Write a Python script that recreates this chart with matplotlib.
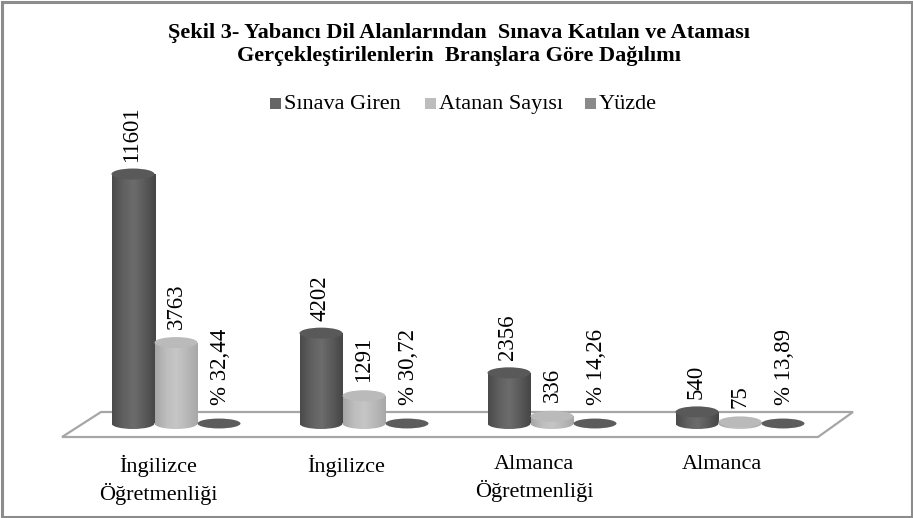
import numpy as np
import matplotlib
matplotlib.use("Agg")
import matplotlib.pyplot as plt
from matplotlib.patches import Ellipse, Polygon, Rectangle
from matplotlib.colors import LinearSegmentedColormap

# ---- data ----
categories = ["İngilizce\nÖğretmenliği", "İngilizce", "Almanca\nÖğretmenliği", "Almanca"]
series_names = ["Sınava Giren", "Atanan Sayısı", "Yüzde"]
series_colors = ["#666666", "#bdbdbd", "#8a8a8a"]
sinava_giren = [11601, 4202, 2356, 540]
atanan_sayisi = [3763, 1291, 336, 75]
yuzde = [32.44, 30.72, 14.26, 13.89]
yuzde_labels = ["% 32,44", "% 30,72", "% 14,26", "% 13,89"]
title = "Şekil 3- Yabancı Dil Alanlarından  Sınava Katılan ve Ataması\nGerçekleştirilenlerin  Branşlara Göre Dağılımı"

plt.rcParams['font.family'] = ['Liberation Serif', 'DejaVu Serif']

W, H = 913, 518
fig = plt.figure(figsize=(W / 100, H / 100), dpi=100)
ax = fig.add_axes([0, 0, 1, 1])
ax.axis('off')

# scales (group spacing = 1 unit, value axis)
px_per_group = 188.0
center_px = 176.0
base_px = 423.5
val_per_px = 46.5
ax.set_xlim(-center_px / px_per_group, (W - center_px) / px_per_group)
ax.set_ylim(-(H - base_px) * val_per_px, base_px * val_per_px)

bw = 43.0 / px_per_group
eh = 11.0 * val_per_px

def grad_cmap(cols):
    return LinearSegmentedColormap.from_list("g", cols)

dark_cmap = grad_cmap(["#4a4a4a", "#606060", "#6c6c6c", "#5a5a5a", "#464646"])
light_cmap = grad_cmap(["#a6a6a6", "#bdbdbd", "#c6c6c6", "#b8b8b8", "#a8a8a8"])
grad = np.linspace(0, 1, 64).reshape(1, -1)

def cylinder(xc, v, cmap, topcol, z):
    rect = Rectangle((xc - bw / 2, 0), bw, v, facecolor='none', edgecolor='none', zorder=z)
    ax.add_patch(rect)
    im = ax.imshow(grad, cmap=cmap, aspect='auto', extent=(xc - bw / 2, xc + bw / 2, -eh, v),
                   zorder=z, interpolation='bilinear')
    im.set_clip_path(rect)
    bot = Ellipse((xc, 0), bw, eh, facecolor='none', edgecolor='none', zorder=z)
    ax.add_patch(bot)
    im2 = ax.imshow(grad, cmap=cmap, aspect='auto', extent=(xc - bw / 2, xc + bw / 2, -eh, v),
                    zorder=z, interpolation='bilinear')
    im2.set_clip_path(bot)
    ax.add_patch(Ellipse((xc, v), bw, eh, facecolor=topcol, edgecolor='none', zorder=z + 0.1))

# floor (decorative frame in axes fraction)
floor = Polygon([(62 / W, 1 - 437 / H), (101 / W, 1 - 412 / H), (853 / W, 1 - 412 / H), (818 / W, 1 - 437 / H)],
                closed=True, transform=ax.transAxes, facecolor='white', edgecolor='#a6a6a6',
                linewidth=1.6, zorder=1)
ax.add_patch(floor)

x = np.arange(len(categories))
for i in range(len(categories)):
    cylinder(x[i] - bw, sinava_giren[i], dark_cmap, "#595959", 3)
    cylinder(x[i], atanan_sayisi[i], light_cmap, "#bababa", 4)
    ax.add_patch(Ellipse((x[i] + bw, yuzde[i] * 0), bw, eh * 0.9, facecolor="#5c5c5c",
                         edgecolor='none', zorder=5))

    ax.annotate(str(sinava_giren[i]), (x[i] - bw, sinava_giren[i]), xytext=(-1, 9),
                textcoords='offset points', rotation=90, ha='center', va='bottom', fontsize=16.5)
    ax.annotate(str(atanan_sayisi[i]), (x[i], atanan_sayisi[i]), xytext=(0, 10),
                textcoords='offset points', rotation=90, ha='center', va='bottom', fontsize=16.5)
    ax.annotate(yuzde_labels[i], (x[i] + bw, yuzde[i]), xytext=(1, 13),
                textcoords='offset points', rotation=90, ha='center', va='bottom', fontsize=16.5)
    ax.text(x[i] - 18 / px_per_group, -(455 - base_px) * val_per_px, categories[i],
            ha='center', va='top', fontsize=16, linespacing=1.32)

fig.text(459 / W, 1 - 23 / H, title, ha='center', va='top', fontsize=16,
         fontweight='bold', linespacing=1.22)

# legend (drawn manually: square + label)
leg_sq_x = [270, 425, 585]
for name, col, sx in zip(series_names, series_colors, leg_sq_x):
    fig.patches.append(Rectangle((sx / W, 1 - 109 / H), 11 / W, 11 / H, transform=fig.transFigure,
                                 facecolor=col, edgecolor='none'))
    fig.text((sx + 14) / W, 1 - 109 / H, name, ha='left', va='baseline', fontsize=16)

# outer border
fig.patches.append(Rectangle((1.5 / W, 1.5 / H), 1 - 3 / W, 1 - 3 / H, transform=fig.transFigure,
                             fill=False, edgecolor='#8c8c8c', linewidth=2.2))

fig.savefig("out.png", dpi=100)
